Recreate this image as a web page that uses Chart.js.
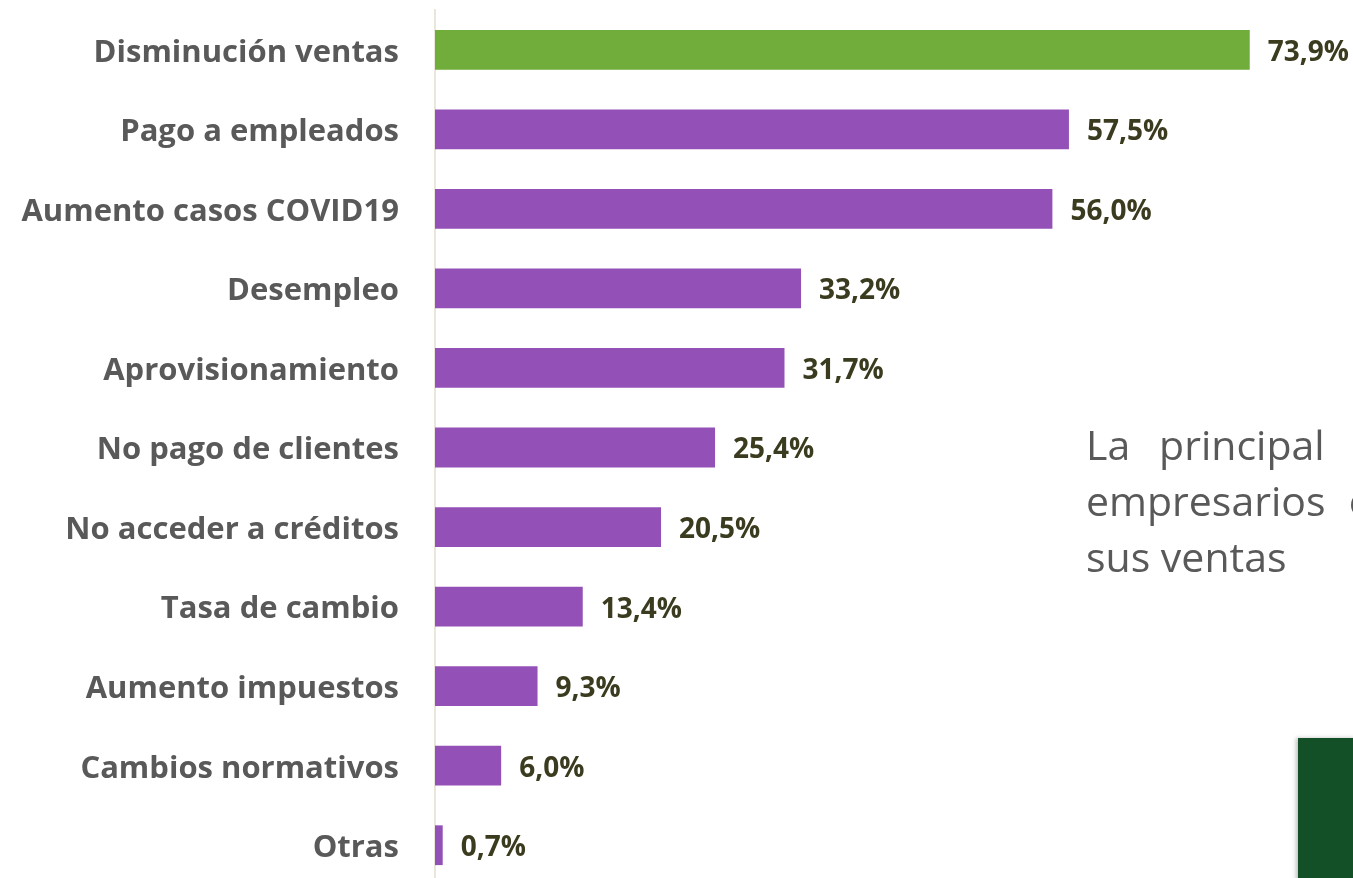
<!DOCTYPE html>
<html>
<head>
<meta charset="utf-8">
<script src="https://cdn.jsdelivr.net/npm/chart.js@4"></script>
<style>
  html, body { margin:0; padding:0; width:1353px; height:878px; overflow:hidden; background:#ffffff; }
  #wrap { position:absolute; left:0; top:0; width:1353px; height:885px; }
  #note { position:absolute; left:1086px; top:416px; width:730px; font-family:"Open Sans", sans-serif; font-size:41px; line-height:56px; color:#595959; text-align:justify; white-space:normal; }
  #box { position:absolute; left:1298px; top:738px; width:80px; height:160px; background:#145027; box-shadow:-2px 0 4px rgba(0,0,0,0.25); }
</style>
</head>
<body>
<div id="wrap"><canvas id="c" width="1353" height="885"></canvas></div>
<div id="note">La principal preocupación de los empresarios es la disminución de sus ventas</div>
<div id="box"></div>
<script>
const categories = ["Disminución ventas","Pago a empleados","Aumento casos COVID19","Desempleo","Aprovisionamiento","No pago de clientes","No acceder a créditos","Tasa de cambio","Aumento impuestos","Cambios normativos","Otras"];
const values = [73.9, 57.5, 56.0, 33.2, 31.7, 25.4, 20.5, 13.4, 9.3, 6.0, 0.7];
const barColors = ["#70AD3B","#9350B7","#9350B7","#9350B7","#9350B7","#9350B7","#9350B7","#9350B7","#9350B7","#9350B7","#9350B7"];

// size the justified note so the first line's word gaps match the reference
(function () {
  const m = document.createElement('canvas').getContext('2d');
  m.font = '41px "Open Sans", sans-serif';
  const words = ["La","principal","preocupación","de","los"];
  let w = 0; words.forEach(t => w += m.measureText(t).width);
  document.getElementById('note').style.width = Math.round(w + 4 * 29) + 'px';
})();

const valueLabels = {
  id: 'valueLabels',
  afterDatasetsDraw(chart) {
    const ctx = chart.ctx;
    const meta = chart.getDatasetMeta(0);
    ctx.save();
    ctx.font = 'bold 28px "Open Sans", sans-serif';
    ctx.fillStyle = '#3B3B1F';
    ctx.textAlign = 'left';
    ctx.textBaseline = 'middle';
    meta.data.forEach((bar, i) => {
      const txt = values[i].toFixed(1).replace('.', ',') + '%';
      ctx.fillText(txt, bar.x + 18, bar.y + 3);
    });
    ctx.restore();
  }
};

new Chart(document.getElementById('c'), {
  type: 'bar',
  data: {
    labels: categories,
    datasets: [{
      data: values,
      backgroundColor: barColors,
      borderWidth: 0,
      categoryPercentage: 1.0,
      barPercentage: 0.5
    }]
  },
  options: {
    indexAxis: 'y',
    responsive: false,
    animation: false,
    devicePixelRatio: 1,
    layout: { padding: { top: 10, right: 36, bottom: 0, left: 0 } },
    plugins: { legend: { display: false }, tooltip: { enabled: false } },
    scales: {
      x: { display: false, min: 0, max: 80 },
      y: {
        grid: { display: false, drawTicks: false },
        border: { display: true, color: '#EAE6DA', width: 2 },
        ticks: { color: '#595959', padding: 36, labelOffset: 3, font: { family: '"Open Sans", sans-serif', size: 31, weight: 'bold' } },
        afterFit(scale) { scale.width = 435; scale.paddingTop = 0; scale.paddingBottom = 0; }
      }
    }
  },
  plugins: [valueLabels]
});
</script>
</body>
</html>
